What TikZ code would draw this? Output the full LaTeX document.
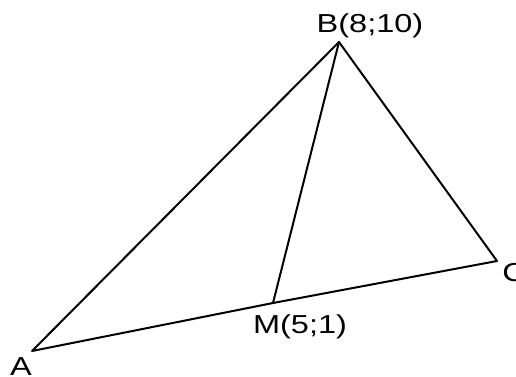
\documentclass[tikz,border=0pt]{standalone}
\usepackage{fontspec}
\setmainfont{Liberation Sans}
\begin{document}
\begin{tikzpicture}[x=1pt,y=-1pt,
  edge/.style={line width=2pt,line join=round,line cap=round},
  lbl/.style={inner sep=0pt,font=\fontsize{26}{30}\selectfont,xscale=1.25}]
\useasboundingbox (0,0) rectangle (516,376);
\coordinate (A) at (32,351);
\coordinate (B) at (339,42);
\coordinate (C) at (497,261);
\coordinate (M) at (273,303);
\draw[edge] (A) -- (B) -- (C) -- (M) -- (A);
\draw[edge] (B) -- (M);
\node[lbl,anchor=base] (lB) at (370,32) {B(8;10)};
\node[lbl,anchor=base] (lM) at (300,333) {M(5;1)};
\node[lbl,anchor=base] (lA) at (21,375) {A};
\node[lbl,anchor=base west] (lC) at (502,281) {C};
\end{tikzpicture}
\end{document}
